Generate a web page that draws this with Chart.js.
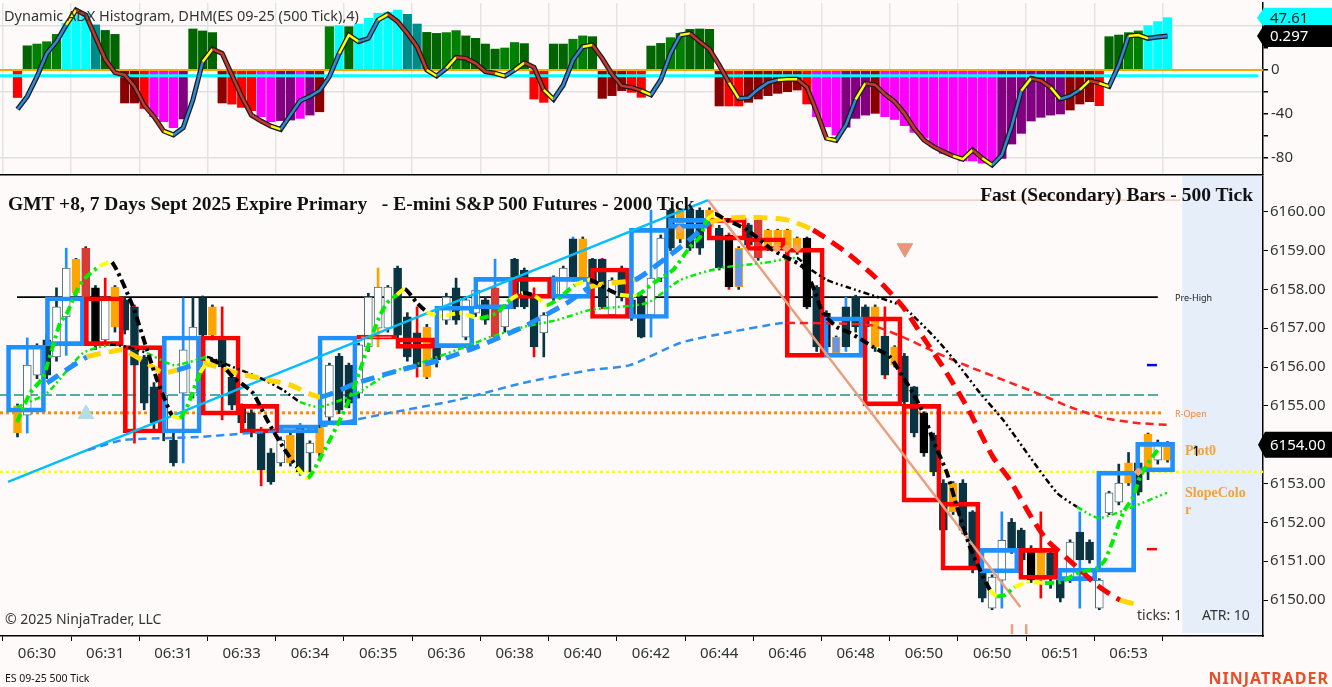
<!DOCTYPE html>
<html>
<head>
<meta charset="utf-8">
<title>ES 09-25 500 Tick</title>
<script src="https://cdn.jsdelivr.net/npm/chart.js@4.4.1/dist/chart.umd.min.js"></script>
<style>
  html, body { margin: 0; padding: 0; background: #FFFAFA; }
  body { position: relative; width: 1332px; height: 687px; overflow: hidden; font-family: 'Noto Sans', sans-serif; color: #333; }
  canvas { position: absolute; left: 0; }
  #adxChart { top: 0; }
  #priceChart { top: 176px; }
  .lbl { position: absolute; white-space: pre; line-height: 1; }
  .serif { font-family: 'Liberation Serif', 'DejaVu Serif', serif; font-weight: bold; color: #111; font-size: 19.5px; }
  .note { font-family: 'Liberation Serif', serif; font-weight: bold; color: #F4A23C; font-size: 14px; }
  .tag { position: absolute; left: 1270px; font-size: 15px; line-height: 1; }
</style>
</head>
<body>
<canvas id="adxChart" width="1332" height="176"></canvas>
<canvas id="priceChart" width="1332" height="511"></canvas>

<div class="lbl" style="left:4px;top:8px;font-size:14.5px;">Dynamic ADX Histogram, DHM(ES 09-25 (500 Tick),4)</div>
<div class="lbl serif" style="left:8px;top:194px;">GMT +8, 7 Days Sept 2025 Expire Primary   - E-mini S&amp;P 500 Futures - 2000 Tick</div>
<div class="lbl serif" style="right:79px;top:185px;">Fast (Secondary) Bars - 500 Tick</div>
<div class="lbl" style="left:1175px;top:293px;font-size:9px;color:#222;">Pre-High</div>
<div class="lbl" style="left:1175px;top:409px;font-size:9px;color:#F0883A;">R-Open</div>
<div class="lbl note" style="left:1185px;top:444px;">Plot0</div>
<div class="lbl" style="left:1192px;top:443px;font-size:15px;color:#000;">1</div>
<div class="lbl note" style="left:1185px;top:486px;">SlopeColo</div>
<div class="lbl note" style="left:1185px;top:503px;">r</div>
<div class="lbl" style="left:5px;top:612px;font-size:14px;">© 2025 NinjaTrader, LLC</div>
<div class="lbl" style="left:1137px;top:608px;font-size:14px;">ticks: 1</div>
<div class="lbl" style="left:1202px;top:608px;font-size:14px;">ATR: 10</div>
<div class="lbl" style="left:5px;top:673px;font-size:10.5px;color:#111;">ES 09-25 500 Tick</div>
<div class="lbl" style="right:3px;top:670px;font-size:16px;font-weight:bold;color:#E84E2A;letter-spacing:1px;">NINJATRADER</div>
<div class="tag" id="histTag" style="color:#222;">47.61</div>
<div class="tag" id="adxTag" style="color:#fff;">0.297</div>
<div class="tag" id="priceTag" style="color:#fff;">6154.00</div>

<script>
// ---------- data ----------
const timeLabels = ['06:30', '06:31', '06:31', '06:33', '06:34', '06:35', '06:36', '06:38', '06:40',
                    '06:42', '06:44', '06:46', '06:48', '06:50', '06:50', '06:51', '06:53'];
const tickBars = [2, 9, 16, 23, 30, 37, 44, 51, 58, 65, 72, 79, 86, 93, 100, 107, 114];
const priceTicks = [6150, 6151, 6152, 6153, 6154, 6155, 6156, 6157, 6158, 6159, 6160];

// Dynamic ADX histogram (one value per 500 tick bar)
const histValues = [-25, 22, 23.6, 25.7, 32.4, 42.4, 50, 51.5, 41, 36, 32.4,
  -30, -30, -35, -42.4, -47, -52.4, -44.5,
  37.3, 35.5, 34,
  -30, -31, -34, -37, -42.4, -47, -46, -45.5, -44, -41, -38,
  39.4, 40.3, 39.4, 41.8, 47, 51.5, 52.4, 54.5, 50.6, 41.8, 34.2, 33.3, 34, 35.8, 31, 28.8, 23.6, 19, 20, 25, 24,
  -26.4, -29.4,
  23.6, 23.6, 28, 31, 30.3,
  -25.8, -23.3, -18.8, -20.3, -24.8,
  21.8, 24.2, 29.4, 33.3, 37, 37.3, 37,
  -32.7, -32.7, -32.7, -29.4, -26.4, -23.3, -21.2, -19.7, -18.2, -30.9, -42.4, -51.5, -59, -52, -44, -41, -39.4, -42.4, -45,
  -50.6, -56.7, -62, -69.7, -75.8, -78.8, -82.7, -82.7, -84.8, -84.8,
  -80.3, -67.3, -57.6, -46.4, -43, -41, -40,
  -36.4, -30.9, -28.8, -32.4,
  30.3, 31.8, 34, 35.5, 40.3, 44, 47.6];
// R red, D dark red, M magenta, P purple, G dark green, L green, C cyan, T teal
const histState = 'RGLLLCCCTGGDDRMMMPGGGDRRRMMPPMPDLCGCCCCCTTGGLLGGGGLLGRRGGLLGDDDRRGGLLGGGDRRDDDDDDRMMMPPPDMMMMMMMMMMMMPPPPPPPDDDRGGLLCCC';
const adxLine = [-35.7, -24, -6, 15, 25.8, 41, 54.5, 50, 30, 9.7,
  -2.4, -4.5, -15, -32, -42.4, -55.5, -59, -52.4, -27, 7.5,
  19, 15, -4.5, -24, -41, -46.4, -51, -54, -41, -28,
  -24, -18.8, -6, 15, 31.8, 25.8, 28.8, 45.5, 50.6, 44,
  33.3, 21.2, 0, -5.5, 1.5, 11.5, 10.6, 6, -1.5, -3,
  -5.5, 0, 6.7, 2.4, -18, -26.7, -13.6, 9, 21.2, 22.7,
  10.6, -3.6, -14.5, -15.8, -18.8, -22.7, -9, 15, 31.8, 33.3,
  25.8, 18.8, 4.5, -11.5, -25.8, -25.2, -17.6, -11.5, -9, -8.5,
  -8.5, -15.8, -38, -62, -64, -50, -26.7, -12, -13.6, -22,
  -28.8, -39.4, -53, -63.6, -69.7, -74.2, -78.2, -81, -72.7, -80.3,
  -86.4, -77.3, -51.5, -18.8, -7.6, -9.7, -15.8, -26.4, -23.6, -18,
  -9.7, -12, -15, 4.5, 31, 31.8, 28.8, 30, 31];
const zeroLevel = 0;
const signalLevel = -5.2;
const histTagValue = 47.61;

// 500 tick candles: open, high, low, close
const ohlc = [
  [6155.00, 6155.05, 6154.20, 6154.30], [6154.76, 6156.75, 6154.30, 6156.05], [6155.79, 6156.60, 6155.70, 6156.48],
  [6156.70, 6156.85, 6155.70, 6155.79], [6156.26, 6158.04, 6156.15, 6157.55], [6157.29, 6159.06, 6156.30, 6158.55],
  [6158.78, 6158.80, 6157.75, 6157.91], [6159.06, 6159.10, 6157.70, 6157.80], [6158.04, 6158.10, 6156.45, 6156.57],
  [6156.70, 6158.29, 6156.60, 6157.73], [6158.06, 6158.10, 6156.90, 6157.03], [6157.73, 6157.80, 6156.85, 6156.95],
  [6157.55, 6157.60, 6154.04, 6156.05], [6156.26, 6156.30, 6154.90, 6155.07], [6155.49, 6155.60, 6154.40, 6154.56],
  [6154.30, 6155.40, 6154.10, 6155.28], [6154.12, 6154.30, 6153.45, 6153.53], [6155.33, 6157.78, 6153.53, 6156.44],
  [6155.33, 6157.80, 6155.20, 6157.03], [6157.78, 6157.83, 6156.70, 6156.82], [6157.55, 6157.60, 6156.70, 6156.82],
  [6156.75, 6157.55, 6154.64, 6156.00], [6155.74, 6155.80, 6154.90, 6155.02], [6154.97, 6155.05, 6154.45, 6154.56],
  [6154.82, 6154.90, 6154.20, 6154.30], [6154.30, 6154.45, 6152.94, 6153.35], [6153.79, 6153.90, 6152.98, 6153.04],
  [6153.53, 6154.20, 6153.45, 6154.12], [6154.25, 6154.30, 6153.45, 6153.53], [6154.43, 6154.55, 6153.20, 6153.30],
  [6153.79, 6154.10, 6153.30, 6154.04], [6154.43, 6154.50, 6153.70, 6153.79], [6154.71, 6156.10, 6154.60, 6156.05],
  [6156.28, 6156.35, 6154.80, 6154.89], [6156.05, 6156.10, 6154.95, 6155.07], [6155.33, 6156.62, 6155.20, 6156.57],
  [6156.52, 6157.90, 6156.40, 6157.80], [6157.00, 6158.55, 6156.52, 6158.06], [6157.00, 6158.10, 6156.90, 6158.06],
  [6158.55, 6158.60, 6156.70, 6156.82], [6157.29, 6157.40, 6156.15, 6156.26], [6156.88, 6157.55, 6155.74, 6156.00],
  [6157.03, 6157.10, 6155.70, 6155.74], [6156.49, 6156.60, 6156.00, 6156.18], [6157.21, 6157.90, 6157.10, 6157.80],
  [6158.04, 6158.29, 6157.10, 6157.21], [6156.77, 6157.80, 6156.70, 6157.73], [6157.39, 6158.10, 6157.30, 6157.98],
  [6157.73, 6157.80, 6157.10, 6157.21], [6158.04, 6158.78, 6156.70, 6156.77], [6157.03, 6157.60, 6156.90, 6157.55],
  [6158.78, 6158.80, 6157.50, 6157.55], [6158.50, 6158.55, 6157.50, 6157.55], [6157.80, 6158.04, 6156.26, 6156.52],
  [6156.88, 6157.40, 6156.26, 6157.34], [6157.80, 6158.35, 6157.70, 6158.32], [6157.86, 6158.60, 6157.80, 6158.55],
  [6159.30, 6159.35, 6158.20, 6158.24], [6159.30, 6159.35, 6158.20, 6158.32], [6158.78, 6158.80, 6158.00, 6158.06],
  [6158.78, 6158.80, 6157.50, 6157.55], [6157.34, 6158.30, 6157.30, 6158.24], [6158.55, 6158.60, 6157.70, 6157.78],
  [6157.73, 6157.80, 6157.20, 6157.26], [6157.78, 6157.85, 6156.75, 6156.77], [6157.34, 6160.04, 6156.77, 6158.29],
  [6158.29, 6159.40, 6158.20, 6159.32], [6160.04, 6160.08, 6159.00, 6159.06], [6160.04, 6160.08, 6159.20, 6159.30],
  [6160.04, 6160.08, 6159.00, 6159.06], [6160.04, 6160.10, 6158.90, 6159.06], [6160.04, 6160.10, 6159.50, 6159.61],
  [6159.58, 6159.65, 6158.50, 6158.55], [6159.40, 6159.45, 6158.00, 6158.06], [6159.06, 6159.10, 6158.00, 6158.06],
  [6159.66, 6159.70, 6159.10, 6159.14], [6159.79, 6159.85, 6158.75, 6158.81], [6159.53, 6159.55, 6159.00, 6159.06],
  [6159.53, 6159.55, 6159.00, 6159.06], [6159.53, 6159.55, 6159.00, 6159.06], [6159.32, 6159.35, 6158.90, 6158.96],
  [6159.32, 6159.35, 6157.50, 6157.55], [6158.06, 6158.10, 6156.40, 6156.52], [6157.39, 6157.45, 6156.40, 6156.52],
  [6156.77, 6156.80, 6156.30, 6156.36], [6157.55, 6157.80, 6156.40, 6156.52], [6157.80, 6157.85, 6156.90, 6157.03],
  [6157.55, 6157.60, 6156.90, 6157.03], [6157.55, 6157.60, 6156.40, 6156.52], [6156.80, 6157.55, 6155.70, 6155.79],
  [6156.52, 6156.55, 6156.00, 6156.05], [6156.28, 6156.35, 6155.00, 6155.10], [6155.49, 6155.50, 6154.20, 6154.30],
  [6154.82, 6154.85, 6153.70, 6153.79], [6154.25, 6154.30, 6153.20, 6153.30], [6153.01, 6153.10, 6151.70, 6151.80],
  [6153.01, 6153.05, 6152.20, 6152.27], [6153.01, 6153.10, 6151.70, 6151.80], [6152.27, 6152.30, 6150.70, 6150.82],
  [6150.77, 6150.80, 6149.95, 6150.05], [6150.59, 6150.65, 6149.75, 6149.79], [6150.51, 6152.27, 6149.79, 6151.54],
  [6151.29, 6152.10, 6151.20, 6152.01], [6151.80, 6151.85, 6150.95, 6151.03], [6151.34, 6151.40, 6150.45, 6150.51],
  [6151.24, 6152.27, 6150.05, 6150.51], [6151.21, 6151.25, 6150.30, 6150.56], [6150.51, 6150.55, 6149.95, 6150.05],
  [6151.49, 6151.55, 6150.45, 6150.51], [6151.03, 6152.27, 6149.79, 6151.75], [6151.49, 6151.55, 6150.95, 6151.03],
  [6150.51, 6150.55, 6149.75, 6149.79], [6152.24, 6152.80, 6152.20, 6152.76], [6152.52, 6153.50, 6152.45, 6153.01],
  [6153.01, 6153.80, 6152.95, 6153.53], [6153.53, 6153.55, 6152.70, 6152.78], [6154.27, 6154.30, 6153.10, 6153.30],
  [6154.07, 6154.12, 6153.50, 6153.60], [6153.60, 6154.08, 6153.55, 6154.04]];
// d dark, k black, w hollow, o orange, r red, c cornflower
const candleKind = 'owwdwworkwoddddwdwwdoddddddwodwowddwwwwdddodwdwwdrwdddwwwdoddwdddwwdoddodkcdroooo' +
                   'kdkcdddododdkddodddwwddkoddwddwwwodow';
const blueWicks = [1, 5, 17, 29, 49, 57, 65, 85, 101, 109];
const redWicks = [9, 12, 21, 25, 41, 53, 60, 73, 89, 105];
const orangeWicks = [37];

// 2000 tick bars (primary series)
const boxOpen = [6154.84, 6156.55, 6157.81, 6156.55, 6154.30, 6156.80, 6155.04, 6154.30, 6154.51, 6156.82,
                 6156.75, 6156.50, 6157.50, 6158.31, 6157.77, 6158.55, 6157.25, 6159.57, 6159.83, 6159.33,
                 6159.06, 6156.25, 6157.29, 6155.04, 6152.52, 6150.70, 6151.33, 6150.50, 6150.72, 6153.30];
const boxClose = [6156.56, 6157.81, 6156.55, 6154.30, 6156.80, 6154.76, 6154.30, 6154.51, 6156.80, 6156.72,
                  6156.48, 6157.57, 6158.31, 6157.77, 6158.31, 6157.25, 6159.57, 6159.83, 6159.27, 6159.00,
                  6156.25, 6157.29, 6155.00, 6152.52, 6150.77, 6151.33, 6150.53, 6150.82, 6153.32, 6154.06];

// indicator plots as [bar, price]
const plot0 = [[-0.05,6154.58],[1.28,6155.33],[2.62,6155.74],[4.36,6157.13],[5.08,6157.39],[6.1,6157.98],[6.93,6158.29],
  [8.46,6158.60],[9.7,6158.70],[11.85,6157.55],[13.29,6156.44],[14.31,6155.67],[15.14,6155.15],[15.85,6154.76],
  [16.67,6154.69],[17.39,6154.97],[18.74,6155.85],[19.75,6156.18],[20.98,6156.05],[22.11,6155.74],[24.16,6155.33],
  [25.6,6154.64],[27.24,6153.94],[28.68,6153.42],[29.81,6153.14],[31.35,6153.79],[33.09,6154.64],[34.32,6155.33],
  [35.14,6155.92],[35.96,6156.52],[36.99,6157.21],[37.91,6157.65],[38.94,6157.86],[39.76,6158.01],[40.99,6157.65],
  [42.02,6157.42],[43.36,6157.31],[45.4,6157.39],[47.46,6157.26],[49.2,6157.39],[50.53,6157.73],[51.87,6157.91],
  [53.1,6157.83],[54.33,6157.60],[55.36,6157.73],[57.2,6158.11],[58.74,6158.24],[60.28,6158.04],[61.82,6157.86],
  [63.56,6157.85],[65.41,6158.19],[67.26,6158.50],[69.0,6159.09],[70.03,6159.35],[70.75,6159.79],[71.57,6159.94],
  [72.39,6159.84],[74.86,6159.53],[77.52,6159.01],[80.6,6158.58],[81.63,6158.06],[82.65,6157.39],[84.09,6157.03],
  [85.42,6156.88],[87.78,6156.52],[89.52,6156.26],[90.86,6155.74],[91.88,6155.33],[92.91,6154.82],[93.94,6154.12],
  [95.37,6153.27],[96.4,6152.40],[97.73,6151.36],[98.76,6150.77],[99.78,6150.26],[100.5,6150.10],[101.32,6150.13],
  [102.34,6150.33],[103.58,6150.46],[105.43,6150.44],[106.97,6150.46],[109.02,6150.72],[110.77,6150.82],
  [111.59,6151.03],[112.41,6151.54],[113.43,6152.24],[114.46,6152.65],[115.18,6153.17],[116.2,6153.60],[117.23,6153.94]];
const trendMA = [[3.03,6155.59],[7.13,6156.26],[9.49,6156.39],[10.83,6156.44],[13.29,6156.10],[14.93,6155.85],
  [16.37,6155.92],[19.03,6156.10],[22.11,6155.87],[25.6,6155.67],[27.96,6155.54],[31.04,6155.23],[34.83,6155.59],
  [39.25,6155.92],[43.36,6156.18],[47.15,6156.52],[51.87,6157.03],[56.38,6157.65],[58.74,6158.06],[60.79,6158.16],
  [63.36,6158.24],[67.26,6158.94],[69.31,6159.35],[71.06,6159.73],[73.11,6159.84],[75.47,6159.86],[78.96,6159.79],
  [81.63,6159.53],[85.11,6158.94],[87.98,6158.32],[90.86,6157.55],[92.91,6156.77],[94.96,6156.00],[97.43,6154.97],
  [100.09,6153.68],[101.83,6153.09],[103.89,6152.19],[105.63,6151.54],[108.71,6150.85],[110.77,6150.38],
  [113.13,6150.00],[115.18,6149.87]];
const slowLine = [[-0.05,6154.97],[3.03,6155.33],[6.72,6156.36],[9.49,6156.57],[11.24,6156.52],[13.29,6156.36],
  [15.96,6156.05],[17.7,6156.13],[19.44,6156.26],[22.11,6156.00],[24.88,6155.72],[27.24,6155.41],[28.99,6155.10],
  [31.04,6154.97],[34.83,6155.33],[38.22,6155.85],[41.61,6156.13],[45.1,6156.44],[48.48,6156.77],[51.87,6157.03],
  [55.36,6157.21],[58.74,6157.47],[64.59,6157.65],[67.98,6158.24],[72.08,6158.55],[76.5,6158.68],[79.98,6158.81],
  [81.01,6158.58],[83.06,6158.24],[85.11,6158.06],[88.5,6157.78],[90.86,6157.55],[94.35,6156.70],[96.71,6156.00],
  [98.76,6155.33],[101.12,6154.64],[103.89,6153.68],[106.66,6152.76],[108.71,6152.40],[111.07,6152.11],[117.95,6152.76]];
const baseMA = [[7.23,6153.86],[10.83,6154.12],[15.44,6154.17],[18.72,6154.20],[23.86,6154.30],[28.99,6154.38],
  [31.04,6154.46],[38.22,6154.82],[45.1,6155.15],[51.87,6155.59],[58.74,6155.92],[62.85,6156.05],[67.98,6156.62],
  [73.11,6156.90],[78.24,6157.13],[78.96,6157.14],[87.47,6157.08],[90.86,6156.77],[94.35,6156.36],[97.73,6156.00],
  [101.12,6155.67],[104.6,6155.33],[108.0,6154.97],[111.38,6154.69],[114.87,6154.56],[117.95,6154.51]];

// drawn objects and levels
const trendUp = [[-0.97, 6153.04], [70.85, 6160.30]];
const trendDown = [[70.85, 6160.30], [102.9, 6149.82]];
const trendTop = [[70.85, 6160.30], [119.3, 6160.30]];
const preHigh = 6157.80, tealLevel = 6155.28, rOpen = 6154.82, yellowLevel = 6153.30;
const lastPrice = 6154.00;
const upMarks = [[7.03, 6154.79]];
const downMarks = [[91.05, 6159.06]];
const blueDash = [[116.4, 6156.05]];
const redDash = [[116.4, 6151.31]];
const salmonTicks = [[102.04, 6149.25], [103.5, 6149.25]];
const diamonds = [[67.9, 6159.55], [77.9, 6159.06], [78.9, 6159.06], [80.0, 6159.06], [115.0, 6153.30]];

// ---------- layout constants ----------
const X_MIN = -1.796, X_MAX = 127.796;
const BOX_FIRST = 0.87, BOX_STEP = 3.995;
const SHADE_FROM = 119.5;

Chart.defaults.font.family = "'Noto Sans', sans-serif";
Chart.defaults.color = '#333';
Chart.defaults.animation = false;

const pts = arr => arr.map(p => ({ x: p[0], y: p[1] }));
const flat = (y, from, to) => [{ x: from, y: y }, { x: to, y: y }];

// fixed axis sizes, no label overhang padding, so the plot area matches the reference
function fixSize(prop, size) {
  return s => {
    s[prop] = size;
    s.paddingTop = 0; s.paddingBottom = 0; s.paddingLeft = 0; s.paddingRight = 0;
  };
}

// slope colouring: last segment before a turn is highlighted
function turnColor(vals, up, down, turn) {
  return ctx => {
    const i = ctx.p0DataIndex;
    const d = vals[i + 1] - vals[i];
    const nx = i + 2 < vals.length ? vals[i + 2] - vals[i + 1] : d;
    if (Math.sign(d) !== Math.sign(nx)) return turn;
    return d >= 0 ? up : down;
  };
}

function drawTag(ctx, x, yc, h, fill) {
  ctx.save();
  ctx.beginPath();
  ctx.moveTo(x, yc);
  ctx.lineTo(x + 7, yc - h / 2);
  ctx.lineTo(1332, yc - h / 2);
  ctx.lineTo(1332, yc + h / 2);
  ctx.lineTo(x + 7, yc + h / 2);
  ctx.closePath();
  ctx.fillStyle = fill;
  ctx.fill();
  ctx.restore();
}

function placeTag(id, top) {
  document.getElementById(id).style.top = (top - 8) + 'px';
}

// ---------- ADX panel ----------
const histColors = { R: '#FF0000', D: '#8B0000', M: '#FF00FF', P: '#800080', G: '#006400', L: '#008000', C: '#00FFFF', T: '#008B8B' };
const adxPts = adxLine.map((v, i) => ({ x: i, y: v }));

const adxTags = {
  id: 'adxTags',
  afterDraw(chart) {
    const y = chart.scales.y;
    const yh = y.getPixelForValue(histTagValue);
    const ya = y.getPixelForValue(adxLine[adxLine.length - 1]);
    drawTag(chart.ctx, y.left - 6, yh, 20, '#00FFFF');
    drawTag(chart.ctx, y.left - 6, ya, 22, '#000000');
    placeTag('histTag', yh);
    placeTag('adxTag', ya);
  }
};

new Chart(document.getElementById('adxChart'), {
  type: 'bar',
  data: {
    datasets: [
      { type: 'line', data: adxPts, borderColor: '#1c1c1c', borderWidth: 5, pointRadius: 0, tension: 0, order: 1 },
      { type: 'line', data: adxPts, borderWidth: 2.5, pointRadius: 0, tension: 0, order: 0,
        segment: { borderColor: turnColor(adxLine, '#2B8BD6', '#C8372D', '#FFFF00') } },
      { type: 'line', data: flat(zeroLevel, X_MIN, X_MAX), borderColor: '#FFA500', borderWidth: 2, pointRadius: 0, order: 3 },
      { type: 'line', data: flat(signalLevel, X_MIN, 127.3), borderColor: '#00FFFF', borderWidth: 3, pointRadius: 0, order: 2 },
      { type: 'bar', data: histValues.map((v, i) => ({ x: i, y: v })),
        backgroundColor: histState.split('').map(c => histColors[c]),
        barThickness: 8.5, grouped: false, order: 5 }
    ]
  },
  options: {
    responsive: false,
    events: [],
    layout: { autoPadding: false, padding: { top: 3, left: 0, right: 0, bottom: 0 } },
    plugins: { legend: { display: false }, tooltip: { enabled: false } },
    scales: {
      x: {
        type: 'linear', min: X_MIN, max: X_MAX, offset: false,
        afterBuildTicks: s => { s.ticks = tickBars.map(v => ({ value: v })); },
        afterFit: fixSize('height', 1),
        ticks: { display: false },
        grid: { color: '#E4E4E4', lineWidth: 1.5, drawTicks: false },
        border: { display: true, color: '#000', width: 1.5 }
      },
      y: {
        position: 'right', min: -95.45, max: 60.91,
        afterFit: fixSize('width', 69),
        afterBuildTicks: s => { s.ticks = [40, 20, 0, -20, -40, -60, -80].map(v => ({ value: v })); },
        ticks: { callback: v => (v === 0 || v === -40 || v === -80) ? String(v) : '', padding: 3, font: { size: 15 }, color: '#333' },
        grid: { color: ctx => [40, -20, -80].includes(ctx.tick.value) ? '#E0E0E0' : 'rgba(0,0,0,0)',
                lineWidth: 1.5, tickLength: 5, tickColor: '#000' },
        border: { color: '#000', width: 1.5 }
      }
    }
  },
  plugins: [adxTags]
});

// ---------- price panel ----------
const bodyFill = { d: '#0A3441', k: '#000000', w: '#FFFFFF', o: '#FFA500', r: '#D83A34', c: '#6495ED' };
const bodyLine = { d: '#0A3441', k: '#000000', w: '#4F6D78', o: '#FFA500', r: '#D83A34', c: '#FFA500' };
const kinds = candleKind.split('');
const wickColor = ohlc.map((r, i) => blueWicks.includes(i) ? '#1E90FF'
  : redWicks.includes(i) ? '#FF0000' : orangeWicks.includes(i) ? '#FFA500' : '#0A3441');

const plot0Vals = plot0.map(p => p[1]);
const slowVals = slowLine.map(p => p[1]);

const priceDecor = {
  id: 'priceDecor',
  beforeDraw(chart) {
    const { ctx, chartArea, scales } = chart;
    const x0 = scales.x.getPixelForValue(SHADE_FROM);
    ctx.save();
    ctx.fillStyle = '#E6EEF9';
    ctx.fillRect(x0, 0, chartArea.right - 1 - x0, chartArea.bottom - 3);
    ctx.restore();
  },
  afterDraw(chart) {
    const y = chart.scales.y;
    const yc = y.getPixelForValue(lastPrice);
    drawTag(chart.ctx, y.left - 5, yc, 26, '#000000');
    placeTag('priceTag', 176 + yc);
  }
};

const lineDefaults = { type: 'line', pointRadius: 0, fill: false };

new Chart(document.getElementById('priceChart'), {
  type: 'bar',
  data: {
    datasets: [
      // markers
      { type: 'scatter', data: pts(upMarks), pointStyle: 'triangle', pointRadius: 9,
        pointBackgroundColor: '#B0E0E6', pointBorderColor: '#B0E0E6', order: 1 },
      { type: 'scatter', data: pts(downMarks), pointStyle: 'triangle', rotation: 180, pointRadius: 9,
        pointBackgroundColor: '#E9967A', pointBorderColor: '#E9967A', order: 1 },
      { type: 'scatter', data: pts(blueDash), pointStyle: 'line', pointRadius: 5, pointBorderWidth: 2.5,
        pointBorderColor: '#0000FF', order: 1 },
      { type: 'scatter', data: pts(redDash), pointStyle: 'line', pointRadius: 5, pointBorderWidth: 2.5,
        pointBorderColor: '#FF0000', order: 1 },
      { type: 'scatter', data: pts(salmonTicks), pointStyle: 'line', rotation: 90, pointRadius: 5, pointBorderWidth: 2.5,
        pointBorderColor: '#F0A080', order: 1, clip: false },
      { type: 'scatter', data: pts(diamonds), pointStyle: 'rectRot', pointRadius: 4,
        pointBackgroundColor: '#F4A460', pointBorderColor: '#F4A460', order: 2 },

      // slope coloured plots
      { ...lineDefaults, data: pts(plot0), borderWidth: 4, borderDash: [9, 4, 3, 4], tension: 0.2, order: 10,
        segment: { borderColor: turnColor(plot0Vals, '#00EE00', '#000000', '#FFFF00') } },
      { ...lineDefaults, data: pts(trendMA), borderWidth: 5, borderDash: [14, 8], tension: 0.2, order: 12,
        segment: { borderColor: ctx => {
          const a = trendMA[ctx.p0DataIndex], b = trendMA[ctx.p1DataIndex];
          const s = (b[1] - a[1]) / (b[0] - a[0]);
          return s > 0.06 ? '#1E90FF' : s < -0.16 ? '#FF0000' : '#FFD700';
        } } },
      { ...lineDefaults, data: pts(slowLine), borderWidth: 2.5, borderDash: [6, 3, 2, 3, 2, 3], tension: 0.2, order: 15,
        segment: { borderColor: turnColor(slowVals, '#00EE00', '#000000', '#00EE00') } },
      { ...lineDefaults, data: pts(baseMA), borderWidth: 2.5, borderDash: [8, 5], tension: 0.2, order: 20,
        segment: { borderColor: ctx => baseMA[ctx.p1DataIndex][1] >= baseMA[ctx.p0DataIndex][1] ? '#2F8FF0' : '#FF2020' } },

      // drawing tools
      { ...lineDefaults, data: pts(trendUp), borderColor: '#00BFFF', borderWidth: 2.5, order: 22 },
      { ...lineDefaults, data: pts(trendDown), borderColor: '#E9A080', borderWidth: 2.5, order: 22 },
      { ...lineDefaults, data: pts(trendTop), borderColor: 'rgba(233,150,122,0.55)', borderWidth: 1.2, order: 22 },

      // 2000 tick bars
      { type: 'bar', data: boxOpen.map((o, k) => ({ x: BOX_FIRST + BOX_STEP * k, y: [o, boxClose[k]] })),
        backgroundColor: 'rgba(0,0,0,0)',
        borderColor: boxOpen.map((o, k) => boxClose[k] >= o ? '#1E90FF' : '#FF0000'),
        borderWidth: 4, borderSkipped: false, barThickness: 39, grouped: false, order: 30 },

      // 500 tick candles
      { type: 'bar', data: ohlc.map((r, i) => ({ x: i, y: [r[0], r[3]] })),
        backgroundColor: kinds.map(k => bodyFill[k]), borderColor: kinds.map(k => bodyLine[k]),
        borderWidth: 1, borderSkipped: false, barThickness: 8, grouped: false, order: 40 },
      { type: 'bar', data: ohlc.map((r, i) => ({ x: i, y: [r[2], r[1]] })),
        backgroundColor: wickColor, barThickness: 2, grouped: false, order: 41 },

      // levels
      { ...lineDefaults, data: flat(preHigh, -0.05, 117), borderColor: '#000000', borderWidth: 1.6, order: 50 },
      { ...lineDefaults, data: flat(tealLevel, X_MIN, 117.4), borderColor: '#21908A', borderWidth: 1.5, borderDash: [10, 4], order: 50 },
      { ...lineDefaults, data: flat(rOpen, X_MIN, 117.4), borderColor: '#FF8C00', borderWidth: 3, borderDash: [3, 3], order: 50 },
      { ...lineDefaults, data: flat(yellowLevel, X_MIN, X_MAX), borderColor: '#FFFF00', borderWidth: 2.5, borderDash: [3, 3], order: 50 }
    ]
  },
  options: {
    responsive: false,
    events: [],
    layout: { autoPadding: false, padding: { top: 1, left: 0, right: 0, bottom: 0 } },
    plugins: { legend: { display: false }, tooltip: { enabled: false } },
    scales: {
      x: {
        type: 'linear', min: X_MIN, max: X_MAX, offset: false,
        afterBuildTicks: s => { s.ticks = tickBars.map(v => ({ value: v })); },
        afterFit: fixSize('height', 51),
        ticks: { callback: (v, i) => timeLabels[i], autoSkip: false, maxRotation: 0, padding: 4, font: { size: 15 }, color: '#333' },
        grid: { drawOnChartArea: false, tickLength: 5, color: '#000' },
        border: { color: '#000', width: 1.5 }
      },
      y: {
        position: 'right', min: 6149.073, max: 6160.894,
        afterFit: fixSize('width', 69),
        afterBuildTicks: s => { s.ticks = priceTicks.map(v => ({ value: v })); },
        ticks: { callback: v => v.toFixed(2), padding: 2, font: { size: 15 }, color: '#333' },
        grid: { drawOnChartArea: false, tickLength: 5, color: '#000' },
        border: { color: '#000', width: 1.5 }
      }
    }
  },
  plugins: [priceDecor]
});
</script>
</body>
</html>
